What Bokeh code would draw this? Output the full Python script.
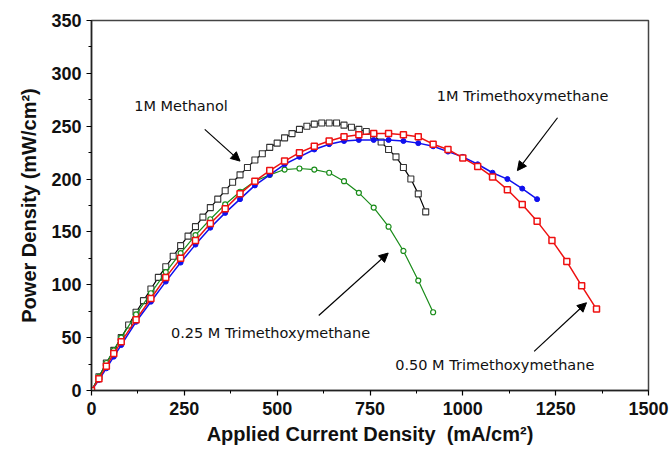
from bokeh.plotting import figure
from bokeh.models import Range1d, Label, Arrow, NormalHead, FixedTicker
from bokeh.embed import file_html
from bokeh.resources import INLINE

# 1M Methanol
meoh_x = [0, 20, 40, 60, 80, 100, 120, 140, 160, 180, 200, 220, 240, 260, 280, 300, 320, 340, 360, 380,
          400, 420, 440, 460, 480, 500, 520, 540, 560, 580, 600, 620, 640, 660, 680, 700, 720, 740, 760,
          780, 800, 820, 840, 860, 880, 900]
meoh_y = [0, 13, 26, 38, 50, 62, 74, 85, 96, 107, 117, 127, 137, 146, 155, 164, 173, 181, 189, 197,
          204, 211, 218, 224, 230, 234, 239, 243, 247, 250, 252, 253, 253, 253, 251, 249, 247, 245, 241,
          235, 228, 221, 211, 200, 186, 169]

# 0.25 M Trimethoxymethane
tmm025_x = [0, 20, 40, 60, 80, 120, 160, 200, 240, 280, 320, 360, 400, 440, 480, 520, 560, 600, 640,
            680, 720, 760, 800, 840, 880, 920]
tmm025_y = [0, 13, 26, 38, 50, 72, 92, 112, 130, 147, 162, 176, 188, 198, 204, 209, 210, 209, 206,
            198, 187, 173, 155, 132, 104, 74]

# 0.50 M Trimethoxymethane
tmm050_x = [0, 20, 40, 60, 80, 120, 160, 200, 240, 280, 320, 360, 400, 440, 480, 520, 560, 600, 640,
            680, 720, 760, 800, 840, 880, 920, 960, 1000, 1040, 1080, 1120, 1160, 1200, 1240, 1280,
            1320, 1360]
tmm050_y = [0, 11, 23, 35, 46, 67, 87, 107, 125, 142, 158, 172, 186, 198, 208, 217, 225, 231, 236,
            240, 242, 243, 243, 242, 240, 233, 228, 220, 212, 202, 190, 176, 160, 142, 122, 99, 77]

# 1M Trimethoxymethane
tmm1_x = [0, 20, 40, 60, 80, 120, 160, 200, 240, 280, 320, 360, 400, 440, 480, 520, 560, 600, 640,
          680, 720, 760, 800, 840, 880, 920, 960, 1000, 1040, 1080, 1120, 1160, 1200]
tmm1_y = [0, 10, 21, 32, 43, 65, 84, 103, 121, 138, 154, 168, 181, 194, 204, 214, 221, 228, 233,
          236, 237, 237, 237, 236, 234, 231, 226, 221, 214, 206, 200, 191, 181]

x_ticks = [0, 250, 500, 750, 1000, 1250, 1500]
y_ticks = [0, 50, 100, 150, 200, 250, 300, 350]

p = figure(width=672, height=451, output_backend="svg", toolbar_location=None,
           x_range=Range1d(0, 1500), y_range=Range1d(0, 350),
           min_border_left=91, min_border_right=24, min_border_top=20, min_border_bottom=61,
           frame_width=557, frame_height=370)
p.background_fill_color = "white"
p.border_fill_color = "white"
p.outline_line_color = "#444444"
p.outline_line_width = 1.5
p.xgrid.visible = False
p.ygrid.visible = False

# series
p.line(meoh_x, meoh_y, line_color="black", line_width=1.2)
p.scatter(meoh_x, meoh_y, marker="square", size=6, fill_color="white", line_color="#333333", line_width=1.1)

p.line(tmm025_x, tmm025_y, line_color="#1a8c1a", line_width=1.2)
p.scatter(tmm025_x, tmm025_y, marker="circle", size=5, fill_color="white", line_color="#1a8c1a", line_width=1.2)

p.line(tmm1_x, tmm1_y, line_color="#1010ee", line_width=1.5)
p.scatter(tmm1_x, tmm1_y, marker="circle", size=5, fill_color="#1010ee", line_color="#1010ee")

p.line(tmm050_x, tmm050_y, line_color="#ee1111", line_width=1.5)
p.scatter(tmm050_x, tmm050_y, marker="square", size=6, fill_color="white", line_color="#ee1111", line_width=1.5)

# axes
for ax in (p.xaxis[0], p.yaxis[0]):
    ax.axis_line_width = 1.5
    ax.axis_line_color = "#222222"
    ax.major_tick_line_width = 1.2
    ax.minor_tick_line_width = 1
    ax.major_tick_out = 5
    ax.major_tick_in = 0
    ax.minor_tick_out = 3
    ax.minor_tick_in = 0
    ax.major_label_text_font = "Liberation Sans"
    ax.major_label_text_font_style = "bold"
    ax.major_label_text_font_size = "18px"
    ax.major_label_text_color = "#111111"
    ax.axis_label_text_font = "Liberation Sans"
    ax.axis_label_text_font_style = "bold"
    ax.axis_label_text_font_size = "20px"
    ax.axis_label_text_color = "#111111"

p.xaxis[0].ticker = FixedTicker(ticks=x_ticks, minor_ticks=[125, 375, 625, 875, 1125, 1375])
p.yaxis[0].ticker = FixedTicker(ticks=y_ticks, minor_ticks=[25, 75, 125, 175, 225, 275, 325])
p.xaxis[0].axis_label = "Applied Current Density \u00a0(mA/cm²)"
p.yaxis[0].axis_label = "Power Density (mW/cm²)"
p.xaxis[0].major_label_standoff = 6
p.yaxis[0].major_label_standoff = 5
p.xaxis[0].axis_label_standoff = 5
p.yaxis[0].axis_label_standoff = 8

# annotations
def lab(x, y, t):
    p.add_layout(Label(x=x, y=y, text=t, text_align="center", text_baseline="middle",
                       text_font="DejaVu Sans", text_font_size="14.5px", text_color="#111111"))

lab(241, 269, "1M Methanol")
lab(1161, 279, "1M Trimethoxymethane")
lab(482, 54, "0.25 M Trimethoxymethane")
lab(1086, 24, "0.50 M Trimethoxymethane")

def arr(x0, y0, x1, y1):
    p.add_layout(Arrow(end=NormalHead(size=9, fill_color="black", line_color="black"),
                       x_start=x0, y_start=y0, x_end=x1, y_end=y1,
                       line_color="black", line_width=1.2))

arr(305, 247, 400, 217)
arr(1255, 258, 1147, 208)
arr(612, 71, 799, 130)
arr(1192, 37, 1333, 83)

open("out.html", "w").write(file_html(p, INLINE))
